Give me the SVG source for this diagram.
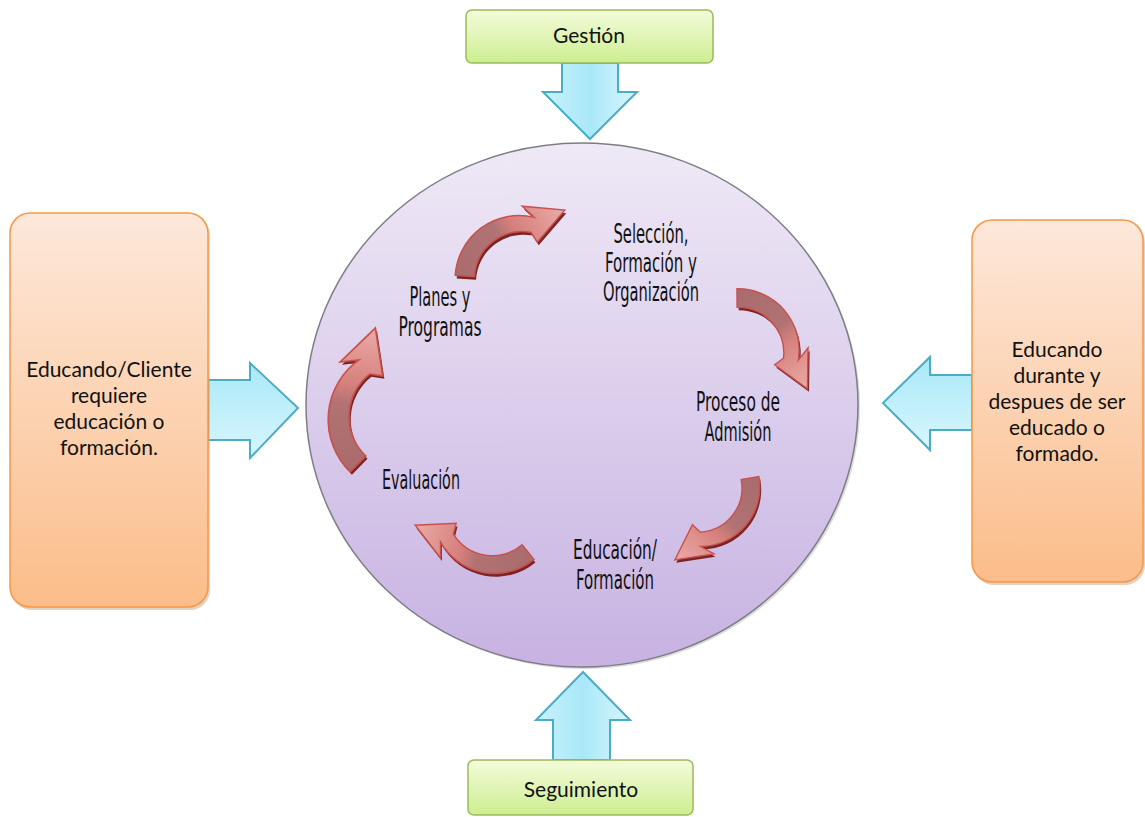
<svg xmlns="http://www.w3.org/2000/svg" xmlns:xlink="http://www.w3.org/1999/xlink" width="1145" height="817" viewBox="0 0 1145 817">
<style>
.box{font-family:Lato,"Liberation Sans",sans-serif;font-size:21px;fill:#111;text-anchor:middle}
.lbl{font-family:"Liberation Sans Narrow","DejaVu Sans Condensed","Liberation Sans",sans-serif;font-size:26px;fill:#111;text-anchor:middle}
.green{fill:url(#gGreen);stroke:#9bbb59;stroke-width:1.5}
.orange{fill:url(#gOrange);stroke:#f79646;stroke-width:1.5}
.blue{fill:url(#gBlue);stroke:#4bacc6;stroke-width:2;stroke-linejoin:miter}
.blueh{fill:url(#gBlueH);stroke:#4bacc6;stroke-width:2;stroke-linejoin:miter}
.sh{fill:#7a2424;stroke:none}
.ca{fill:url(#gRed);stroke:#c9504c;stroke-width:1.5;stroke-linejoin:miter}
</style>
<defs>
<linearGradient id="gGreen" x1="0" y1="0" x2="0" y2="1"><stop offset="0" stop-color="#f4fbdc"/><stop offset="1" stop-color="#cdee90"/></linearGradient>
<linearGradient id="gOrange" x1="0" y1="0" x2="0" y2="1"><stop offset="0" stop-color="#fde8da"/><stop offset="1" stop-color="#fbbd8a"/></linearGradient>
<linearGradient id="gBlue" x1="0" y1="0" x2="1" y2="0"><stop offset="0" stop-color="#c8f1fb"/><stop offset="0.5" stop-color="#a9e8f8"/><stop offset="1" stop-color="#d8f6fd"/></linearGradient>
<linearGradient id="gBlueH" x1="0" y1="0" x2="0" y2="1"><stop offset="0" stop-color="#a9e8f8"/><stop offset="1" stop-color="#d8f6fd"/></linearGradient>
<linearGradient id="gCircle" x1="0" y1="0" x2="0" y2="1"><stop offset="0" stop-color="#efe9f6"/><stop offset="1" stop-color="#c7b2e2"/></linearGradient>
<linearGradient id="gRed" gradientUnits="userSpaceOnUse" x1="-66" y1="0" x2="38" y2="-72"><stop offset="0" stop-color="#a96b6b"/><stop offset="0.45" stop-color="#b07272"/><stop offset="0.6" stop-color="#d6807c"/><stop offset="1" stop-color="#e9a8a5"/></linearGradient>
<path id="cArrow" d="M -68,0 A 66 66 0 0 1 9.2,-65.4 L -4,-76 L 40,-75 L 14,-40 L 7,-49.5 A 49 49 0 0 0 -48,0 Z"/>
</defs>

<g id="circle">
<ellipse cx="584" cy="407" rx="276" ry="262" fill="#9a9a9a" opacity="0.35"/>
<ellipse cx="582" cy="405" rx="276" ry="262" fill="url(#gCircle)" stroke="#7d7d85" stroke-width="1.5"/>
</g>

<g id="connectors">
<path class="blue" d="M562,63 L618,63 L618,92 L637,92 L590,139 L543,92 L562,92 Z"/>
<path class="blue" d="M553,760 L553,720 L536,720 L583,672 L630,720 L610,720 L610,760 Z"/>
<path class="blueh" d="M208,380 L250,380 L250,363 L298,408 L250,458 L250,440 L208,440 Z"/>
<path class="blueh" d="M972,375 L930,375 L930,357 L883,403 L930,450 L930,430 L972,430 Z"/>
</g>

<g id="cycle-arrows">
<g id="arrow-planes-seleccion">
<use xlink:href="#cArrow" class="sh" transform="translate(522.5,283) rotate(4) scale(0.97)"/>
<use xlink:href="#cArrow" class="ca" transform="translate(521,280) rotate(4) scale(0.97)"/>
</g>
<g id="arrow-seleccion-admision">
<use xlink:href="#cArrow" class="sh" transform="translate(739,355) rotate(89.6) scale(0.93)"/>
<use xlink:href="#cArrow" class="ca" transform="translate(737.4,352) rotate(89.6) scale(0.93)"/>
</g>
<g id="arrow-admision-educacion">
<use xlink:href="#cArrow" class="sh" transform="translate(700,490) rotate(170) scale(0.9)"/>
<use xlink:href="#cArrow" class="ca" transform="translate(698.6,487.1) rotate(170) scale(0.9)"/>
</g>
<g id="arrow-educacion-evaluacion">
<use xlink:href="#cArrow" class="sh" transform="translate(495,513) rotate(230.8) scale(0.94)"/>
<use xlink:href="#cArrow" class="ca" transform="translate(493.6,509.8) rotate(230.8) scale(0.94)"/>
</g>
<g id="arrow-evaluacion-planes">
<use xlink:href="#cArrow" class="sh" transform="translate(405,421) rotate(-45.3) scale(1.11)"/>
<use xlink:href="#cArrow" class="ca" transform="translate(403.3,418.2) rotate(-45.3) scale(1.11)"/>
</g>
</g>

<g id="labels">
<g id="n-seleccion">
<text class="lbl" x="651" y="243" textLength="75" lengthAdjust="spacingAndGlyphs">Selección,</text>
<text class="lbl" x="651" y="272" textLength="92" lengthAdjust="spacingAndGlyphs">Formación y</text>
<text class="lbl" x="651" y="301" textLength="96" lengthAdjust="spacingAndGlyphs">Organización</text>
</g>
<g id="n-planes">
<text class="lbl" x="440" y="306" textLength="61" lengthAdjust="spacingAndGlyphs">Planes y</text>
<text class="lbl" x="440" y="336" textLength="83" lengthAdjust="spacingAndGlyphs">Programas</text>
</g>
<g id="n-admision">
<text class="lbl" x="738" y="411" textLength="84" lengthAdjust="spacingAndGlyphs">Proceso de</text>
<text class="lbl" x="738" y="441" textLength="67" lengthAdjust="spacingAndGlyphs">Admisión</text>
</g>
<g id="n-evaluacion">
<text class="lbl" x="421" y="489" textLength="78" lengthAdjust="spacingAndGlyphs">Evaluación</text>
</g>
<g id="n-educacion">
<text class="lbl" x="615" y="559" textLength="84" lengthAdjust="spacingAndGlyphs">Educación/</text>
<text class="lbl" x="615" y="589" textLength="78" lengthAdjust="spacingAndGlyphs">Formación</text>
</g>
</g>

<g id="n-gestion">
<rect class="green" x="466" y="10" width="247" height="53" rx="6"/>
<text class="box" x="589" y="43">Gestión</text>
</g>

<g id="n-seguimiento">
<rect class="green" x="468" y="760" width="225" height="55" rx="6"/>
<text class="box" x="581" y="797">Seguimiento</text>
</g>

<g id="n-cliente">
<rect x="12" y="216" width="198" height="394" rx="20" fill="#c9a58a" opacity="0.5"/>
<rect class="orange" x="10" y="213" width="198" height="394" rx="20"/>
<text class="box" x="109" y="377">Educando/Cliente</text>
<text class="box" x="109" y="403">requiere</text>
<text class="box" x="109" y="429">educación o</text>
<text class="box" x="109" y="455">formación.</text>
</g>

<g id="n-educado">
<rect x="974" y="223" width="171" height="362" rx="20" fill="#c9a58a" opacity="0.5"/>
<rect class="orange" x="972" y="220" width="171" height="362" rx="20"/>
<text class="box" x="1057" y="357">Educando</text>
<text class="box" x="1057" y="383">durante y</text>
<text class="box" x="1057" y="409">despues de ser</text>
<text class="box" x="1057" y="435">educado o</text>
<text class="box" x="1057" y="461">formado.</text>
</g>
</svg>
